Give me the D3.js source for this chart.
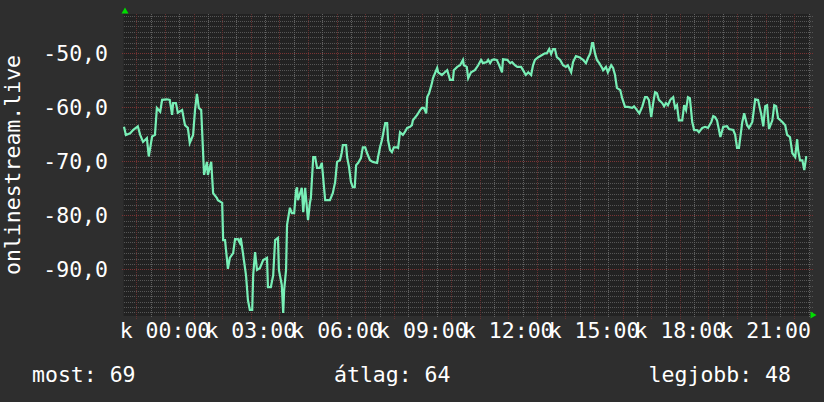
<!DOCTYPE html>
<html>
<head>
<meta charset="utf-8">
<script src="https://cdn.jsdelivr.net/npm/d3@7"></script>
<style>
html, body { margin: 0; padding: 0; background: #2e2e2e; }
svg { display: block; }
text { font-family: "DejaVu Sans Mono", monospace; font-size: 21.5px; fill: #ffffff; }
</style>
</head>
<body>
<svg id="chart" width="824" height="402"></svg>
<script>
// minutes from midnight (negative = previous evening)
const minutes = [
  -86,-82,-73,-67,-57,-52,-46,-38,-34,-27,-21,-17,-10,-6,4,10,15,17,23,27,
  36,42,48,52,59,63,67,71,76,78,82,88,90,97,101,109,111,120,122,126,
  132,136,143,147,153,157,159,164,170,174,178,183,185,189,193,199,206,214,216,222,
  227,231,237,239,245,248,250,254,256,262,266,271,275,277,279,287,290,294,300,304,
  306,311,315,319,325,329,331,336,346,352,357,361,367,371,373,380,382,386,390,394,
  398,401,405,411,415,420,424,430,436,445,447,451,455,462,466,468,472,476,480,487,
  489,493,499,503,508,514,518,520,529,535,539,543,548,550,554,560,562,571,573,581,
  587,592,598,604,606,613,619,625,627,633,636,642,650,657,663,667,675,678,682,686,
  690,696,701,707,709,718,724,728,734,739,747,751,757,762,768,772,776,783,791,797,
  801,806,810,814,818,822,829,835,841,845,852,856,862,869,877,883,887,892,896,898,
  902,906,911,917,919,925,929,936,940,944,948,955,959,965,971,980,984,990,995,1001,
  1007,1011,1015,1020,1024,1028,1032,1036,1043,1047,1051,1055,1060,1066,1070,1074,1078,1085,1089,1093,
  1097,1101,1106,1110,1116,1120,1127,1133,1139,1146,1150,1154,1158,1165,1171,1179,1183,1192,1196,1200,
  1204,1211,1215,1221,1225,1232,1238,1244,1251,1255,1259,1263,1267,1274,1278,1282,1286,1295,1301,1305,
  1311,1316,1322,1326,1328,1332,1337,1341,1345,1347
];
const values = [
  -63.6,-65.1,-64.8,-64.2,-63.5,-65.1,-66.4,-65.7,-69.1,-65.4,-65.1,-60.1,-60.8,-58.6,-58.5,-58.6,-61.4,-59.2,-59.2,-61.0,
  -60.5,-63.3,-63.8,-66.6,-65.1,-60.5,-57.5,-60.1,-60.5,-64.5,-72.5,-70.1,-72.5,-70.1,-75.9,-76.8,-77.2,-77.7,-84.6,-84.6,
  -89.9,-87.9,-87.0,-84.4,-84.4,-85.1,-84.2,-87.3,-91.1,-95.7,-97.5,-97.5,-91.1,-86.8,-90.1,-89.8,-88.3,-87.9,-93.3,-93.3,
  -91.1,-84.6,-84.2,-90.1,-92.9,-98.1,-93.8,-90.1,-81.8,-78.6,-79.6,-79.6,-75.3,-74.8,-77.2,-74.9,-79.4,-74.9,-80.9,-77.7,
  -76.8,-69.2,-69.2,-71.2,-71.2,-70.3,-72.2,-77.2,-77.2,-75.9,-73.8,-70.1,-69.8,-68.3,-67.0,-67.0,-69.2,-71.0,-73.8,-74.8,
  -74.8,-70.7,-70.3,-69.4,-67.4,-67.4,-68.5,-69.8,-70.1,-70.3,-69.2,-67.4,-66.1,-62.9,-62.9,-66.1,-67.9,-68.3,-67.4,-67.4,
  -67.5,-64.6,-65.1,-64.6,-63.8,-63.6,-63.3,-62.4,-61.4,-60.5,-60.1,-60.1,-61.1,-58.1,-57.4,-55.5,-54.6,-52.7,-53.5,-54.0,
  -53.5,-53.1,-54.9,-54.9,-53.1,-52.5,-52.2,-51.2,-52.2,-52.5,-54.6,-53.5,-53.1,-52.2,-51.2,-51.8,-51.6,-51.2,-51.8,-51.2,
  -51.1,-51.2,-52.2,-53.5,-51.1,-51.2,-51.8,-51.6,-52.2,-52.5,-52.5,-53.1,-54.0,-53.5,-54.0,-52.2,-51.2,-50.7,-50.3,-50.0,
  -50.0,-49.2,-50.1,-49.2,-49.2,-50.7,-51.2,-52.2,-52.5,-52.2,-53.5,-51.6,-50.5,-50.7,-51.2,-51.8,-50.9,-50.0,-48.1,-48.1,
  -50.0,-51.2,-51.8,-52.7,-53.1,-52.5,-53.5,-52.2,-52.7,-54.0,-56.4,-56.8,-58.3,-59.9,-59.9,-60.1,-59.8,-60.5,-61.1,-59.9,
  -58.1,-58.1,-58.6,-61.8,-59.2,-57.2,-57.4,-58.6,-59.2,-59.8,-59.2,-59.6,-58.6,-58.1,-60.1,-59.6,-62.4,-62.4,-59.6,-60.5,
  -58.1,-58.3,-62.7,-64.2,-64.2,-64.6,-63.8,-63.6,-63.8,-62.7,-61.6,-61.8,-62.4,-65.5,-63.6,-63.5,-64.0,-64.2,-65.1,-67.5,
  -67.5,-62.7,-61.1,-63.3,-63.8,-62.7,-58.5,-58.6,-61.4,-63.5,-59.8,-59.6,-64.0,-62.4,-59.6,-59.8,-62.0,-62.7,-63.3,-65.1,
  -65.5,-68.5,-69.2,-65.9,-67.9,-69.8,-69.8,-71.6,-69.2,-69.2
];
const timeRange = [-87, 1353];          // minutes shown on the x axis
const valueRange = [-98.65, -42.7];
const yLabels = [-50, -60, -70, -80, -90];
const dayPrefix = "k";
const yTitle = "onlinestream.live";
const summaryNames = ["most", "átlag", "legjobb"];
const summaryValues = [69, 64, 48];

const svg = d3.select("#chart");
const plotLeft = 123.5, plotRight = 810, plotTop = 14, plotBottom = 316;
const base = new Date(2024, 0, 2, 0, 0);
const toDate = m => d3.timeMinute.offset(base, m);

const x = d3.scaleTime().domain(timeRange.map(toDate)).range([plotLeft, plotRight]);
const y = d3.scaleLinear().domain(valueRange).range([plotBottom, plotTop]);

// plot background
svg.append("rect")
  .attr("x", plotLeft).attr("y", plotTop)
  .attr("width", plotRight - plotLeft).attr("height", plotBottom - plotTop)
  .attr("fill", "#222222");

const grid = svg.append("g")
  .attr("stroke-width", 1)
  .attr("stroke-dasharray", "1,1")
  .attr("shape-rendering", "crispEdges");
const snap = v => Math.round(v) + 0.5;
const minorColor = "#555555", majorColor = "#653030";

// minor grid
d3.range(Math.ceil(valueRange[0]), Math.floor(valueRange[1]) + 1)
  .filter(v => v % 10 !== 0)
  .forEach(v => {
    grid.append("line").attr("stroke", minorColor)
      .attr("x1", plotLeft).attr("x2", plotRight + 3)
      .attr("y1", snap(y(v))).attr("y2", snap(y(v)));
  });
x.ticks(d3.timeMinute.every(30))
  .filter(d => d.getMinutes() !== 0)
  .forEach(d => {
    grid.append("line").attr("stroke", "#626262")
      .attr("x1", snap(x(d))).attr("x2", snap(x(d)))
      .attr("y1", plotTop).attr("y2", plotBottom + 2);
  });

// major grid
yLabels.forEach(v => {
  grid.append("line").attr("stroke", "#7a3434")
    .attr("x1", plotLeft - 2).attr("x2", plotRight + 3)
    .attr("y1", snap(y(v))).attr("y2", snap(y(v)));
});
x.ticks(d3.timeHour.every(1)).forEach(d => {
  grid.append("line").attr("stroke", majorColor)
    .attr("x1", snap(x(d))).attr("x2", snap(x(d)))
    .attr("y1", plotTop).attr("y2", plotBottom + 3);
});

// the series
const data = minutes.map((m, i) => ({ t: toDate(m), v: values[i] }));
svg.append("path")
  .datum(data)
  .attr("fill", "none")
  .attr("stroke", "#78efb6")
  .attr("stroke-width", 2.2)
  .attr("stroke-linejoin", "miter")
  .attr("d", d3.line().x(d => x(d.t)).y(d => y(d.v)));

// y labels
const fmtY = v => d3.format(".1f")(v).replace("−", "-").replace(".", ",");
svg.append("g").selectAll("text")
  .data(yLabels).join("text")
  .attr("x", 108).attr("y", d => y(d))
  .attr("dy", "0.36em")
  .attr("text-anchor", "end")
  .text(fmtY);

// x labels
const fmtX = d3.timeFormat("%H:%M");
svg.append("g").selectAll("text")
  .data(x.ticks(d3.timeHour.every(3))).join("text")
  .attr("x", d => x(d)).attr("y", 338)
  .attr("text-anchor", "middle")
  .text(d => dayPrefix + " " + fmtX(d));

// axis title
svg.append("text")
  .attr("transform", "translate(20,165) rotate(-90)")
  .attr("text-anchor", "middle")
  .text(yTitle);

// arrows
svg.append("polygon").attr("points", "121.5,13.5 128.5,13.5 125,7.5").attr("fill", "#00dd00");
svg.append("polygon").attr("points", "810.5,311.5 810.5,318.5 816.5,315").attr("fill", "#00dd00");

// summary line
const sumX = [32, 334, 791];
const sumAnchor = ["start", "start", "end"];
summaryNames.forEach((n, i) => {
  svg.append("text")
    .attr("x", sumX[i]).attr("y", 382)
    .attr("text-anchor", sumAnchor[i])
    .text(n + ": " + summaryValues[i]);
});
</script>
</body>
</html>
